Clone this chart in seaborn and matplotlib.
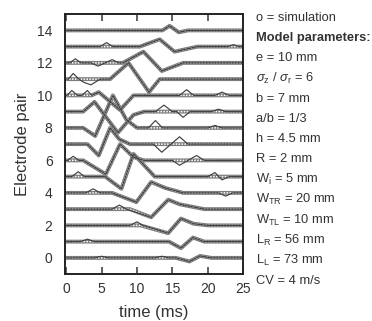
import matplotlib
matplotlib.use("Agg")
import matplotlib.pyplot as plt
import seaborn as sns
import pandas as pd

# ---------------- data ----------------
pairs = list(range(15))

# simulation (circles) key points per electrode pair
sim_t = [
    [0, 15.5, 17.4, 18.9, 20.5, 25],
    [0, 14.5, 16.2, 17.9, 19.5, 25],
    [0, 10.5, 14.4, 16.2, 18, 20, 25],
    [0, 9.0, 12.0, 14.4, 16, 19.5, 25],
    [0, 6.5, 9.9, 12.0, 14, 16.5, 25],
    [0, 5.5, 7.8, 9.5, 12.5, 25],
    [0, 2.4, 5.6, 7.6, 9.5, 11, 25],
    [0, 3.0, 4.6, 6.2, 7.5, 9, 25],
    [0, 2.4, 4.1, 6.6, 8.5, 10, 25],
    [0, 2.4, 4.0, 7.3, 9.5, 11, 25],
    [0, 3.6, 4.6, 7.6, 9.5, 25],
    [0, 6.2, 8.8, 11.7, 13.2, 25],
    [0, 8.0, 10.9, 13.5, 16.5, 25],
    [0, 10.4, 13.2, 15.3, 18.5, 25],
    [0, 13.6, 14.6, 15.9, 17.2, 25],
]
sim_v = [
    [0, 0, -0.22, 0.12, 0, 0],
    [1, 1, 0.6, 1.25, 1, 1],
    [2, 2, 1.52, 2.42, 2.1, 2, 2],
    [3, 3, 2.5, 3.58, 3.3, 3, 3],
    [4, 4, 3.43, 4.67, 4.3, 4, 4],
    [5, 5, 4.25, 6.4, 5.0, 5],
    [6, 6, 5.15, 7.0, 6.2, 6, 6],
    [7, 7, 6.3, 8.0, 7.3, 7, 7],
    [8, 8, 7.5, 10.0, 8.5, 8, 8],
    [9, 9, 9.6, 7.7, 8.8, 9, 9],
    [10, 10, 10.2, 9.1, 10, 10],
    [11, 11, 12.0, 10.2, 11, 11],
    [12, 12, 12.69, 11.5, 12, 12],
    [13, 13, 13.45, 12.69, 13, 13],
    [14, 14, 14.28, 13.88, 14, 14],
]

# measured signal (solid line) key points per electrode pair
meas_t = [
    [0, 4, 5, 6, 12.5, 13.5, 14.5, 15.5, 17.4, 18.9, 20.5, 25],
    [0, 2, 3, 4, 14.5, 16.2, 17.9, 19.5, 25],
    [0, 9, 10, 10.8, 14.4, 16.2, 18, 20, 25],
    [0, 6.5, 7.5, 8.5, 12.0, 14.4, 16, 19.5, 25],
    [0, 2.8, 3.8, 4.8, 6.5, 9.9, 12.0, 14, 16.5, 21.5, 22.5, 23.5, 25],
    [0, 0.8, 1.7, 2.6, 5.5, 7.8, 9.5, 12.5, 20, 21, 22, 23, 25],
    [0, 0.2, 1, 1.8, 2.4, 5.6, 7.6, 9.5, 11, 15, 16, 17.2, 18.4, 19.5, 25],
    [0, 3, 4.6, 6.2, 7.5, 9, 12.3, 13.5, 14.8, 16, 17.2, 25],
    [0, 2.4, 4.1, 6.6, 8.5, 10, 11.6, 12.6, 13.6, 20, 21, 22, 25],
    [0, 2.4, 4.0, 7.3, 9.5, 11, 12.6, 13.8, 15, 15.6, 16.5, 17.5, 20.5, 21.5, 22.5, 25],
    [0, 0.1, 0.8, 1.6, 2.2, 3.0, 3.6, 4.6, 7.6, 9.5, 16, 17, 18, 21, 22, 23, 25],
    [0, 0.3, 1.0, 1.8, 2.5, 3.5, 4.8, 6.2, 8.8, 11.7, 13.2, 25],
    [0, 0.5, 1.3, 2.1, 3.5, 4.5, 5.5, 6.5, 7.4, 8.0, 10.9, 13.5, 16.5, 25],
    [0, 4.8, 5.7, 6.6, 10.4, 13.2, 15.3, 18.5, 22.8, 23.6, 24.4, 25],
    [0, 13.6, 14.6, 15.9, 17.2, 25],
]
meas_v = [
    [0, 0, 0.1, 0, 0, 0.1, 0, 0, -0.22, 0.12, 0, 0],
    [1, 1, 1.15, 1, 1, 0.6, 1.25, 1, 1],
    [2, 2, 2.22, 2, 1.52, 2.42, 2.1, 2, 2],
    [3, 3, 3.25, 3, 2.5, 3.58, 3.3, 3, 3],
    [4, 4, 4.25, 4, 4, 3.43, 4.67, 4.3, 4, 4, 3.8, 4, 4],
    [5, 5, 5.3, 5, 5, 4.25, 6.4, 5, 5, 5.25, 4.8, 5, 5],
    [6, 6, 6.25, 6, 6, 5.15, 7.0, 6.2, 6, 6, 5.7, 6, 6.3, 6, 6],
    [7, 7, 6.3, 8, 7.3, 7, 7, 6.5, 7, 7.45, 7, 7],
    [8, 8, 7.5, 10, 8.5, 8, 8, 8.45, 8, 8, 8.15, 8, 8],
    [9, 9, 9.6, 7.7, 8.8, 9, 9, 9.4, 9, 9, 8.65, 9, 9, 9.15, 9, 9],
    [10, 10, 10.3, 10, 10, 10.3, 10, 10.2, 9.1, 10, 10, 10.35, 10, 10, 10.2, 10, 10],
    [11, 11, 11.35, 11, 10.8, 10.65, 11, 11, 12, 10.2, 11, 11],
    [12, 12, 12.25, 12, 12, 11.8, 12, 12.2, 12, 12, 12.69, 11.5, 12, 12],
    [13, 13, 13.25, 13, 13, 13.45, 12.69, 13, 13, 13.12, 13, 13],
    [14, 14, 14.28, 13.88, 14, 14],
]

x_ticks = [0, 5, 10, 15, 20, 25]
y_ticks = [0, 2, 4, 6, 8, 10, 12, 14]

param_lines = [
    "o = simulation",
    "Model parameters:",
    "e = 10 mm",
    r"$\sigma_{\rm z}$ / $\sigma_{\rm r}$ = 6",
    "b = 7 mm",
    "a/b = 1/3",
    "h = 4.5 mm",
    "R = 2 mm",
    r"W$_{\rm i}$ = 5 mm",
    r"W$_{\rm TR}$ = 20 mm",
    r"W$_{\rm TL}$ = 10 mm",
    r"L$_{\rm R}$ = 56 mm",
    r"L$_{\rm L}$ = 73 mm",
    "CV = 4 m/s",
]

# ---------------- build tables ----------------
sim_df = pd.DataFrame(
    [(p, t, v) for p in pairs for t, v in zip(sim_t[p], sim_v[p])],
    columns=["pair", "t", "v"],
)
meas_df = pd.DataFrame(
    [(p, t, v) for p in pairs for t, v in zip(meas_t[p], meas_v[p])],
    columns=["pair", "t", "v"],
)

# ---------------- style ----------------
sns.set_style("ticks")
plt.rcParams["font.family"] = ["Liberation Sans", "DejaVu Sans"]
plt.rcParams["mathtext.fontset"] = "custom"
plt.rcParams["mathtext.rm"] = "Liberation Sans"
plt.rcParams["mathtext.it"] = "Liberation Sans:italic"
plt.rcParams["mathtext.bf"] = "Liberation Sans:bold"

fig = plt.figure(figsize=(3.72, 3.21), dpi=100)
ax = fig.add_axes([0.175, 0.146, 0.479, 0.81])

dark = "#333333"

# simulation: chain of small circles (grey line with white gaps)
sns.lineplot(data=sim_df, x="t", y="v", units="pair", estimator=None,
             sort=False, color="#7c7c7c", lw=2.8, ax=ax, legend=False)
sns.lineplot(data=sim_df, x="t", y="v", units="pair", estimator=None,
             sort=False, color="white", lw=1.1, linestyle=(0, (1.0, 0.9)),
             ax=ax, legend=False)
# measured signal: thin solid line
sns.lineplot(data=meas_df, x="t", y="v", units="pair", estimator=None,
             sort=False, color="#404040", lw=0.85, ax=ax, legend=False)

ax.set_xlim(-0.15, 25)
ax.set_ylim(-1, 15)
ax.set_xticks(x_ticks)
ax.set_yticks(y_ticks)
ax.tick_params(axis="x", direction="in", top=True, length=5, width=1.1,
               labelsize=10, pad=6, colors=dark)
ax.tick_params(axis="y", direction="in", length=0, labelsize=10, pad=9,
               colors=dark)
for s in ax.spines.values():
    s.set_linewidth(1.4)
    s.set_color("#222222")

ax.set_xlabel("time (ms)", fontsize=12, color=dark, labelpad=6)
ax.set_ylabel("Electrode pair", fontsize=12, color=dark, labelpad=5)

# parameter text block on the right
y0 = 18.0
step = 20.2
for i, line in enumerate(param_lines):
    fig.text(256 / 372, 1 - (y0 + i * step) / 321, line,
             fontsize=9.3, color=dark, va="center", ha="left",
             fontweight="bold" if i == 1 else "normal")

fig.savefig("out.png", dpi=100)
